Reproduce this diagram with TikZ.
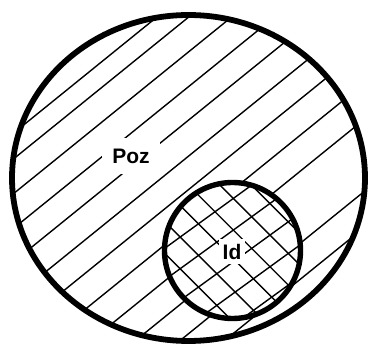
\documentclass[tikz,border=0pt]{standalone}
\usepackage{fontspec}
\setmainfont{Liberation Sans}
\begin{document}
\begin{tikzpicture}[x=1pt,y=-1pt,
  hatch/.style={line width=1.4pt},
  ring/.style={line width=5.8pt},
  lbl/.style={font=\bfseries\fontsize{21}{25}\selectfont, fill=white, inner sep=0pt}]
\useasboundingbox (0,0) rectangle (368,347);
% outer hatching
\begin{scope}
\clip (188.5,178) ellipse [x radius=176.5, y radius=163];
\foreach \c in {112,132,159,186,212,240,266,294,322,378,406} {
  \draw[hatch] ({\c*sin(39)-500*cos(39)},{\c*cos(39)+500*sin(39)}) -- ({\c*sin(39)+500*cos(39)},{\c*cos(39)-500*sin(39)});
}
\draw[hatch] ({350*sin(39)-500*cos(39)},{350*cos(39)+500*sin(39)}) -- ({350*sin(39)},{350*cos(39)});
\end{scope}
% inner cross hatching
\fill[white] (232.5,250.5) circle [radius=68];
\begin{scope}
\clip (232.5,250.5) circle [radius=68];
\foreach \c in {272.1,297.7,323.3,348.9,374.5,400.1} {
  \draw[hatch] ({\c*sin(36)-500*cos(36)},{\c*cos(36)+500*sin(36)}) -- ({\c*sin(36)+500*cos(36)},{\c*cos(36)-500*sin(36)});
}
\foreach \c in {-62.6,-40.3,-18,2.3,24.6,46.9} {
  \draw[hatch] ({\c*sin(45)-500*cos(45)},{-\c*cos(45)-500*sin(45)}) -- ({\c*sin(45)+500*cos(45)},{-\c*cos(45)+500*sin(45)});
}
\end{scope}
% rings
\draw[ring] (188.5,178) ellipse [x radius=176.5, y radius=163];
\draw[ring, line width=5.4pt] (232.5,250.5) circle [radius=68];
% labels
\node[lbl, minimum width=58, minimum height=36] (poz) at (131,156) {Poz};
\node[lbl, minimum width=26, minimum height=25] (id) at (232,252) {Id};
\end{tikzpicture}
\end{document}
